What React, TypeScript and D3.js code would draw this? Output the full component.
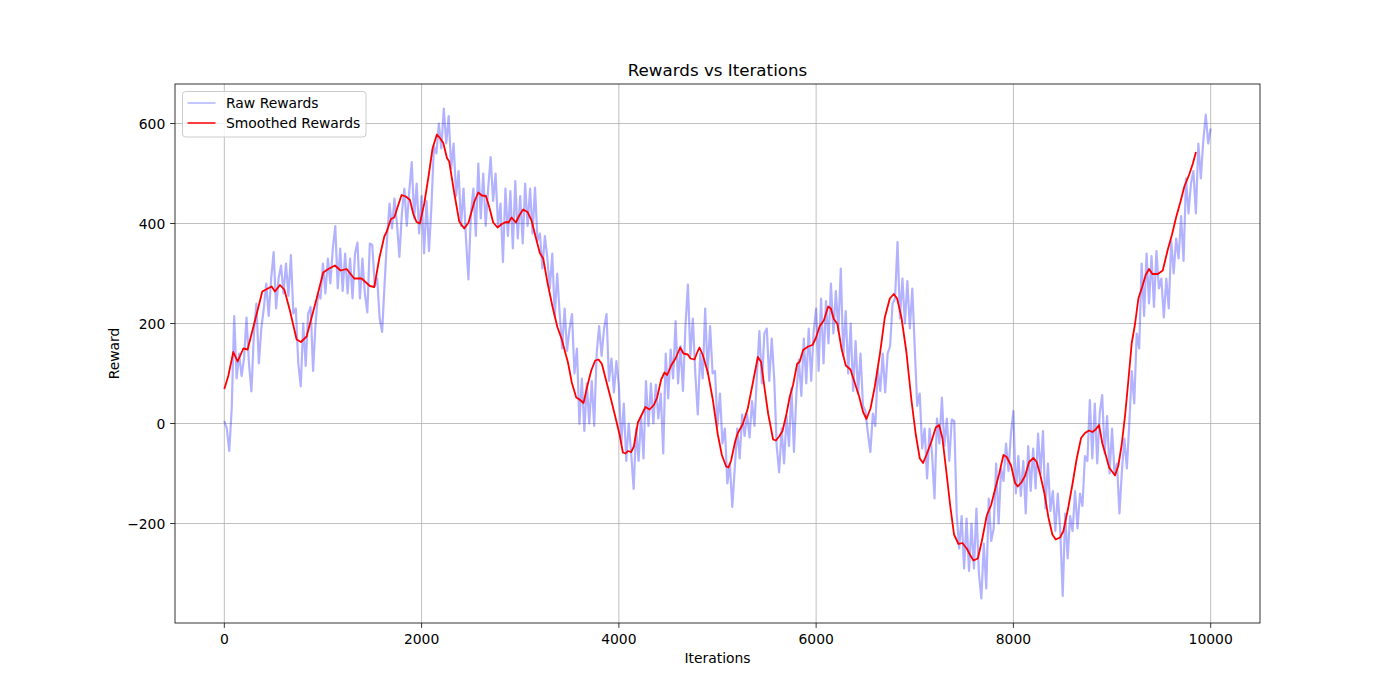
import React from "react";
import * as d3 from "d3";

const RAW_STEP = 25;
const rawRewards = [
  5, -10, -55, 30, 215, 90, 140, 95,
  130, 212, 120, 64, 180, 240, 120, 190,
  230, 280, 215, 290, 343, 230, 290, 316,
  260, 320, 255, 337, 220, 230, 120, 74,
  200, 115, 220, 233, 105, 200, 260, 250,
  320, 260, 330, 280, 350, 395, 270, 350,
  265, 340, 260, 330, 250, 340, 362, 250,
  330, 260, 222, 360, 357, 275, 290, 210,
  183, 280, 370, 440, 390, 450, 400, 333,
  420, 470, 395, 465, 523, 410, 480, 380,
  455, 340, 445, 345, 435, 555, 540, 600,
  550, 630, 560, 615, 510, 560, 455, 505,
  395, 470, 370, 288, 420, 470, 375, 520,
  410, 500, 395, 470, 533, 445, 500, 395,
  440, 323, 470, 375, 465, 350, 485, 370,
  455, 360, 480, 395, 470, 380, 472, 365,
  380, 310, 375, 330, 270, 340, 215, 300,
  220, 150, 230, 145, 190, 219, 100, 150,
  -1, 90, -15, 80, 0, 85, -5, 140,
  195, 135, 190, 219, 85, 130, 62, 125,
  75, -40, 40, -75, 0, -60, -131, -10,
  -75, 15, -70, 85, -5, 80, 0, 78,
  10, 60, -60, 140, 50, 148, 90, 205,
  80, 155, 65, 195, 278, 135, 210, 100,
  18, 140, 90, 230, 100, 195, 100, 105,
  -5, 60, -40, -10, -120, -80, -167, -90,
  -10, -70, 18, -25, 19, -28, 45, -5,
  100, 185, 80, 180, 190, 85, 170, 90,
  -45, -98, -10, -80, 15, -45, 70, -57,
  60, 128, 55, 170, 80, 190, 85, 185,
  230, 105, 250, 120, 245, 160, 280, 180,
  265, 185, 310, 135, 225, 100, 200, 65,
  165, 60, 140, 35, 25, -20, -57, 20,
  -5, 110, 65, 140, 62, 140, 155, 240,
  250, 363, 210, 290, 200, 285, 190, 270,
  150, 35, 60, -50, -10, -110, -10, -60,
  -150, 10, -40, 52, -45, 10, -75, 8,
  5, -180, -250, -185, -290, -190, -295, -200,
  -290, -170, -300, -350, -240, -330, -150, -235,
  -210, -80, -200, -90, -115, -40, -95, -20,
  25, -140, -65, -145, -75, -180, -45, -135,
  -50, -130, -20, -100, -15, -170, -80, -175,
  -135, -215, -140, -215, -345, -180, -270, -185,
  -215, -135, -210, -140, -165, -65, -75, 47,
  -70, 40, -80, 20, 57, -60, 15, -100,
  -10, -100, -80, -180, -95, -30, -90, 0,
  105, 40, 180, 150, 320, 215, 340, 240,
  335, 233, 345, 270, 290, 212, 290, 230,
  365, 300, 370, 330, 415, 325, 490, 420,
  480, 505, 420, 560, 490, 565, 618, 560,
  590,
];

const smoothIters = [
  0, 40, 91, 135, 193, 236, 311, 385, 480, 513, 564, 608, 665, 733, 777, 834, 885, 936,
  1003, 1054, 1121, 1179, 1240, 1317, 1392, 1476, 1520, 1571, 1622, 1645, 1689, 1723, 1757,
  1797, 1841, 1882, 1916, 1949, 1983, 2027, 2071, 2111, 2155, 2186, 2220, 2257, 2280, 2331,
  2382, 2432, 2476, 2534, 2574, 2611, 2652, 2686, 2726, 2770, 2814, 2855, 2882, 2912, 2956,
  2990, 3030, 3074, 3115, 3159, 3199, 3233, 3277, 3328, 3378, 3422, 3463, 3483, 3524, 3568,
  3601, 3642, 3679, 3720, 3760, 3794, 3828, 3872, 3922, 3973, 4007, 4041, 4068, 4091, 4125,
  4152, 4193, 4233, 4270, 4311, 4355, 4388, 4429, 4463, 4490, 4530, 4574, 4622, 4655, 4699,
  4726, 4767, 4790, 4817, 4851, 4902, 4953, 5003, 5044, 5088, 5111, 5138, 5179, 5206, 5257,
  5307, 5358, 5409, 5442, 5472, 5514, 5564, 5591, 5625, 5659, 5699, 5733, 5767, 5807, 5834,
  5868, 5919, 5963, 5997, 6037, 6078, 6122, 6149, 6179, 6216, 6257, 6301, 6348, 6392, 6436,
  6476, 6510, 6551, 6595, 6645, 6696, 6747, 6787, 6821, 6865, 6915, 6966, 7010, 7051, 7084,
  7118, 7169, 7213, 7247, 7280, 7321, 7361, 7398, 7443, 7483, 7527, 7561, 7595, 7639, 7679,
  7730, 7774, 7814, 7855, 7899, 7932, 7976, 8017, 8044, 8084, 8118, 8159, 8203, 8236, 8270,
  8314, 8355, 8395, 8429, 8473, 8507, 8557, 8598, 8642, 8686, 8726, 8767, 8801, 8834, 8868,
  8902, 8936, 8970, 9000, 9030, 9064, 9098, 9132, 9165, 9199, 9233, 9267, 9307, 9341, 9375,
  9409, 9463, 9514, 9564, 9608, 9649, 9693, 9733, 9784, 9818, 9851,
];
const smoothRewards = [
  69, 95, 143, 124, 150, 148, 206, 264, 274, 264, 277, 268, 226, 168, 163, 174, 212, 250,
  302, 309, 316, 306, 309, 290, 290, 275, 273, 330, 374, 383, 409, 412, 433,
  457, 454, 447, 419, 403, 400, 440, 495, 550, 578, 571, 561, 531, 524, 461,
  404, 390, 402, 443, 462, 456, 455, 433, 402, 392, 399, 403, 402, 412, 402,
  416, 428, 423, 406, 371, 341, 330, 281, 233, 192, 168, 137, 123, 81, 52,
  48, 41, 74, 106, 126, 128, 119, 85, 47, 6, -22, -58, -60, -55, -57,
  -46, 2, 18, 33, 28, 37, 52, 88, 102, 97, 116, 130, 152, 140, 138,
  130, 128, 140, 152, 137, 102, 47, -22, -63, -86, -88, -74, -36, -19, -1,
  30, 81, 133, 123, 78, 19, -32, -34, -26, -15, 19, 54, 78, 119, 124,
  147, 154, 157, 171, 195, 206, 234, 230, 209, 199, 150, 116, 108, 81, 54,
  23, 9, 30, 74, 137, 212, 250, 259, 250, 212, 143, 47, -22, -70, -79,
  -63, -36, -8, -3, -29, -98, -167, -222, -241, -239, -250, -263, -274, -270, -236,
  -184, -163, -132, -101, -63, -67, -84, -119, -126, -117, -105, -77, -69, -77, -101,
  -139, -188, -222, -232, -228, -215, -167, -122, -70, -29, -19, -14, -17, -12, -3,
  -40, -63, -88, -96, -104, -84, -42, 16, 85, 160, 199, 250, 274, 297, 309,
  299, 299, 306, 347, 378, 412, 443, 474, 499, 519, 543,
];

const xTicks = [0, 2000, 4000, 6000, 8000, 10000];
const yTicks = [-200, 0, 200, 400, 600];

const W = 1400;
const H = 700;
const M = { left: 175, right: 1260, top: 84, bottom: 623 };
const FONT = "DejaVu Sans, sans-serif";

function fmt(v: number) {
  return v < 0 ? "\u2212" + Math.abs(v) : String(v);
}

export default function App() {
  const rawPts = rawRewards.map((v, i) => [i * RAW_STEP, v] as [number, number]);
  const smoothPts = smoothIters.map((it, i) => [it, smoothRewards[i]] as [number, number]);

  const xMin = 0, xMax = (rawRewards.length - 1) * RAW_STEP;
  const xPad = (xMax - xMin) * 0.05;
  const [yLo, yHi] = d3.extent(rawRewards) as [number, number];
  const yPad = (yHi - yLo) * 0.05;

  const x = d3.scaleLinear().domain([xMin - xPad, xMax + xPad]).range([M.left, M.right]);
  const y = d3.scaleLinear().domain([yLo - yPad, yHi + yPad]).range([M.bottom, M.top]);

  const line = d3.line<[number, number]>().x((d) => x(d[0])).y((d) => y(d[1]));

  const tickLen = 4.86;
  const cx = (M.left + M.right) / 2;

  return (
    <svg
      width={W}
      height={H}
      style={{ position: "absolute", left: 0, top: 0, background: "#fff" }}
      fontFamily={FONT}
    >
      <rect x={0} y={0} width={W} height={H} fill="#fff" />
      <defs>
        <clipPath id="plotclip">
          <rect x={M.left} y={M.top} width={M.right - M.left} height={M.bottom - M.top} />
        </clipPath>
      </defs>
      {xTicks.map((t) => (
        <line key={"gx" + t} x1={x(t)} x2={x(t)} y1={M.top} y2={M.bottom} stroke="#b0b0b0" strokeWidth={0.8} />
      ))}
      {yTicks.map((t) => (
        <line key={"gy" + t} x1={M.left} x2={M.right} y1={y(t)} y2={y(t)} stroke="#b0b0b0" strokeWidth={0.8} />
      ))}
      <g clipPath="url(#plotclip)">
        <path d={line(rawPts) || ""} fill="none" stroke="blue" strokeOpacity={0.3} strokeWidth={2.2} strokeLinejoin="round" />
        <path d={line(smoothPts) || ""} fill="none" stroke="red" strokeWidth={1.8} strokeLinejoin="round" />
      </g>
      <rect x={M.left} y={M.top} width={M.right - M.left} height={M.bottom - M.top} fill="none" stroke="#000" strokeWidth={0.8} />
      {xTicks.map((t) => (
        <g key={"xt" + t}>
          <line x1={x(t)} x2={x(t)} y1={M.bottom} y2={M.bottom + tickLen} stroke="#000" strokeWidth={0.8} />
          <text x={x(t)} y={M.bottom + 21} textAnchor="middle" fontSize={13.9} fill="#000">
            {fmt(t)}
          </text>
        </g>
      ))}
      {yTicks.map((t) => (
        <g key={"yt" + t}>
          <line x1={M.left - tickLen} x2={M.left} y1={y(t)} y2={y(t)} stroke="#000" strokeWidth={0.8} />
          <text x={M.left - 9.7} y={y(t)} dy="0.36em" textAnchor="end" fontSize={13.9} fill="#000">
            {fmt(t)}
          </text>
        </g>
      ))}
      <text x={cx} y={663} textAnchor="middle" fontSize={13.9} fill="#000">Iterations</text>
      <text transform={`translate(119, ${(M.top + M.bottom) / 2}) rotate(-90)`} textAnchor="middle" fontSize={13.9} fill="#000">
        Reward
      </text>
      <text x={cx} y={76} textAnchor="middle" fontSize={16.7} fill="#000">Rewards vs Iterations</text>
      <g>
        <rect x={182.5} y={91.5} width={183.5} height={45.5} rx={3} ry={3} fill="#fff" fillOpacity={0.8} stroke="#cccccc" strokeWidth={1} />
        <line x1={187.5} x2={215.5} y1={103} y2={103} stroke="blue" strokeOpacity={0.3} strokeWidth={1.5} />
        <text x={226} y={103} dy="0.36em" fontSize={13.9} fill="#000">Raw Rewards</text>
        <line x1={187.5} x2={215.5} y1={123} y2={123} stroke="red" strokeWidth={1.5} />
        <text x={226} y={123} dy="0.36em" fontSize={13.9} fill="#000">Smoothed Rewards</text>
      </g>
    </svg>
  );
}
